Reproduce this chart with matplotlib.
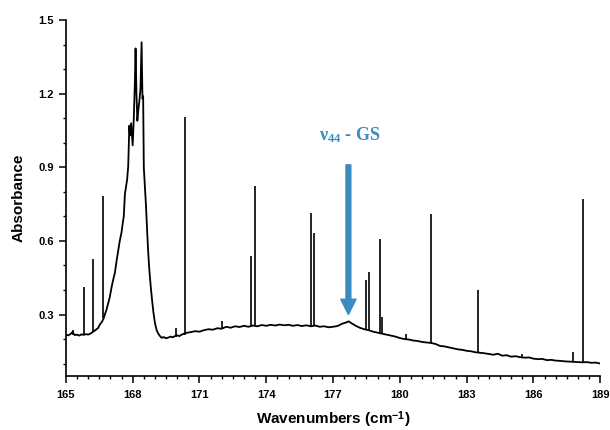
import matplotlib
matplotlib.use('Agg')
import matplotlib.pyplot as plt
from matplotlib.ticker import MultipleLocator

plt.rcParams['font.family'] = ['Liberation Sans', 'DejaVu Sans']
plt.rcParams['mathtext.fontset'] = 'custom'
plt.rcParams['mathtext.rm'] = 'Liberation Serif:bold'
plt.rcParams['mathtext.it'] = 'Liberation Serif:bold'
plt.rcParams['mathtext.sf'] = 'Liberation Sans:bold'

# baseline + broad band (wavenumber, absorbance)
wavenumber = [
    165.0, 165.1, 165.2, 165.3, 165.4, 165.5, 165.6, 165.7, 165.8, 165.9,
    166.0, 166.1, 166.23, 166.35, 166.45, 166.53, 166.62, 166.70, 166.75, 166.82,
    166.90, 166.97, 167.05, 167.12, 167.20, 167.28, 167.35, 167.42, 167.50, 167.55,
    167.60, 167.65, 167.70, 167.75, 167.80, 167.85, 167.88, 167.93, 168.00, 168.05,
    168.10, 168.13, 168.17, 168.21, 168.26, 168.30, 168.35, 168.40, 168.44, 168.47,
    168.50, 168.55, 168.60, 168.65, 168.70, 168.75, 168.81, 168.87, 168.93, 169.00,
    169.08, 169.15, 169.20, 169.3, 169.4, 169.5, 169.6, 169.7, 169.8, 169.9,
    170.0, 170.1, 170.2, 170.4, 170.6, 170.8, 171.0, 171.2, 171.4, 171.6,
    171.8, 172.0, 172.2, 172.4, 172.6, 172.8, 173.0, 173.2, 173.4, 173.6,
    173.8, 174.0, 174.2, 174.4, 174.6, 174.8, 175.0, 175.2, 175.4, 175.6,
    175.8, 176.0, 176.2, 176.4, 176.6, 176.8, 177.0, 177.2, 177.4, 177.6,
    177.7, 177.8, 178.0, 178.2, 178.4, 178.6, 178.8, 179.0, 179.2, 179.4,
    179.6, 179.8, 180.0, 180.2, 180.4, 180.6, 180.8, 181.0, 181.2, 181.4,
    181.6, 181.8, 182.0, 182.2, 182.4, 182.6, 182.8, 183.0, 183.2, 183.4,
    183.6, 183.8, 184.0, 184.2, 184.4, 184.6, 184.8, 185.0, 185.2, 185.4,
    185.6, 185.8, 186.0, 186.2, 186.4, 186.6, 186.8, 187.0, 187.2, 187.4,
    187.6, 187.8, 188.0, 188.2, 188.4, 188.6, 188.8, 189.0,
]
absorbance = [
    0.218, 0.215, 0.220, 0.228, 0.216, 0.218, 0.214, 0.219, 0.217, 0.220,
    0.218, 0.222, 0.230, 0.238, 0.245, 0.260, 0.270, 0.285, 0.300, 0.318,
    0.345, 0.370, 0.410, 0.440, 0.470, 0.520, 0.560, 0.600, 0.635, 0.670,
    0.700, 0.790, 0.820, 0.850, 0.905, 1.070, 1.030, 1.080, 0.990, 1.100,
    1.250, 1.385, 1.200, 1.090, 1.140, 1.170, 1.220, 1.410, 1.180, 1.190,
    0.900, 0.820, 0.740, 0.640, 0.550, 0.480, 0.415, 0.360, 0.310, 0.265,
    0.235, 0.222, 0.215, 0.205, 0.208, 0.203, 0.206, 0.210, 0.207, 0.212,
    0.215, 0.212, 0.218, 0.225, 0.228, 0.232, 0.230, 0.236, 0.240, 0.238,
    0.244, 0.242, 0.250, 0.246, 0.252, 0.249, 0.254, 0.250, 0.255, 0.252,
    0.257, 0.254, 0.258, 0.255, 0.259, 0.256, 0.258, 0.254, 0.257, 0.253,
    0.256, 0.252, 0.255, 0.250, 0.252, 0.248, 0.250, 0.253, 0.262, 0.268,
    0.272, 0.266, 0.255, 0.246, 0.240, 0.236, 0.230, 0.226, 0.222, 0.218,
    0.214, 0.210, 0.204, 0.200, 0.198, 0.194, 0.192, 0.188, 0.186, 0.184,
    0.180, 0.172, 0.170, 0.166, 0.162, 0.158, 0.156, 0.152, 0.150, 0.146,
    0.144, 0.142, 0.139, 0.136, 0.140, 0.132, 0.134, 0.128, 0.130, 0.126,
    0.124, 0.125, 0.120, 0.118, 0.119, 0.114, 0.115, 0.112, 0.111, 0.109,
    0.108, 0.107, 0.106, 0.105, 0.106, 0.103, 0.104, 0.100,
]

# sharp rotational lines: position, foot, top
line_pos = [165.3, 165.81, 166.22, 166.68, 169.94, 170.35, 172.0, 173.30, 173.51,
            175.99, 176.16, 178.50, 178.63, 179.09, 179.22, 180.28, 181.40,
            183.49, 185.50, 187.77, 188.22]
line_base = [0.217, 0.218, 0.230, 0.285, 0.210, 0.215, 0.243, 0.252, 0.252,
             0.253, 0.254, 0.238, 0.235, 0.225, 0.222, 0.200, 0.185,
             0.146, 0.125, 0.107, 0.105]
line_top = [0.238, 0.414, 0.526, 0.784, 0.245, 1.107, 0.275, 0.540, 0.826,
            0.714, 0.632, 0.440, 0.474, 0.608, 0.290, 0.221, 0.711,
            0.400, 0.140, 0.148, 0.771]

band_label = r'$\nu_{44}$ - GS'
band_x = 177.69
blue = '#3a8bc0'

fig = plt.figure(figsize=(6.1, 4.3), dpi=100)
ax = fig.add_axes([0.108, 0.126, 0.876, 0.827])

ax.plot(wavenumber, absorbance, color='black', lw=1.3)
ax.vlines(line_pos, line_base, line_top, color='black', lw=1.2)

ax.annotate('', xy=(band_x, 0.30), xytext=(band_x, 0.91),
            arrowprops=dict(facecolor=blue, edgecolor=blue, width=3.5,
                            headwidth=11, headlength=11, shrink=0))
ax.text(band_x + 0.05, 1.01, band_label, color=blue, fontsize=13,
        fontfamily='Liberation Serif', fontweight='bold',
        ha='center', va='baseline')

ax.set_xlim(165, 189)
ax.set_ylim(0.05, 1.5)
ax.xaxis.set_major_locator(MultipleLocator(3))
ax.xaxis.set_minor_locator(MultipleLocator(0.5))
ax.yaxis.set_major_locator(MultipleLocator(0.3))
ax.yaxis.set_minor_locator(MultipleLocator(0.1))
ax.tick_params(which='major', direction='out', length=5, width=1.1, labelsize=8)
ax.tick_params(axis='x', which='major', pad=5)
ax.tick_params(axis='y', which='major', pad=3.5)
ax.tick_params(which='minor', direction='out', length=2.5, width=1.0)
for lbl in ax.get_xticklabels() + ax.get_yticklabels():
    lbl.set_fontweight('bold')

for side in ['top', 'right']:
    ax.spines[side].set_visible(False)
for side in ['left', 'bottom']:
    ax.spines[side].set_linewidth(1.2)

ax.set_xlabel(r'Wavenumbers (cm$^{\mathsf{-1}}$)', fontsize=11, fontweight='bold', labelpad=7)
ax.set_ylabel('Absorbance', fontsize=11, fontweight='bold', labelpad=9)

fig.savefig('out.png', dpi=100)
